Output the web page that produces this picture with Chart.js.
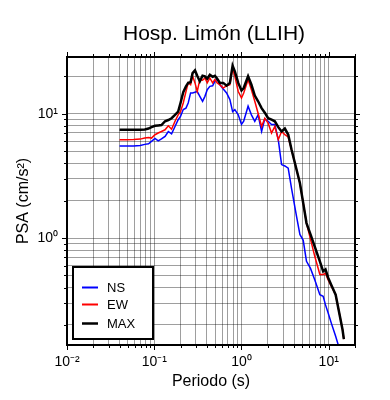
<!DOCTYPE html>
<html>
<head>
<meta charset="utf-8">
<script src="https://cdn.jsdelivr.net/npm/chart.js@4"></script>
<style>
  html, body { margin: 0; padding: 0; background: #fff; }
  #wrap { width: 390px; height: 400px; }
</style>
</head>
<body>
<div id="wrap"><canvas id="psaChart" width="390" height="400"></canvas></div>
<script>
// Periodi (s)
const periodi = [0.04, 0.048, 0.058, 0.069, 0.078, 0.086, 0.093, 0.102, 0.111, 0.121,
  0.133, 0.145, 0.158, 0.173, 0.188, 0.200, 0.215, 0.231, 0.245, 0.261,
  0.275, 0.293, 0.311, 0.333, 0.358, 0.381, 0.405, 0.434, 0.467, 0.495,
  0.527, 0.566, 0.618, 0.675, 0.736, 0.791, 0.839, 0.918, 1.00, 1.06,
  1.19, 1.30, 1.42, 1.55, 1.70, 1.85, 2.02, 2.21, 2.41, 2.64,
  2.88, 3.14, 3.43, 3.75, 4.28, 4.67, 5.10, 5.56, 6.18, 6.93,
  7.91, 8.63, 9.18, 9.85, 10.7, 12.0, 13.2, 14.4, 14.9];

// PSA (cm/s2) per componente
const ns = [5.5, 5.5, 5.5, 5.55, 5.67, 5.74, 6.0, 6.33, 6.05, 6.27,
  6.57, 7.2, 6.9, 7.9, 8.95, 9.5, 10.8, 11.1, 12.2, 14.7,
  14.7, 14.9, 15.1, 13.8, 12.6, 13.8, 15.6, 16.6, 16.8, 18.2,
  19.1, 17.1, 15.8, 14.7, 13.0, 10.4, 10.8, 9.8, 8.2, 8.7,
  11.5, 9.8, 8.7, 9.8, 7.2, 9.1, 8.7, 8.2, 8.2, 6.18,
  3.9, 3.8, 3.65, 2.5, 1.49, 1.07, 0.96, 0.65, 0.57, 0.46,
  0.35, 0.34, 0.29, 0.25, 0.207, 0.162, 0.13, null, null];

const ew = [6.18, 6.18, 6.2, 6.25, 6.37, 6.45, 6.37, 6.78, 7.0, 7.2,
  7.43, 8.0, 7.5, 8.7, 9.8, 10.4, 12.2, 15.1, 17.7, 17.1,
  20.2, 17.7, 15.1, 18.8, 18.6, 19.4, 17.7, 19.4, 17.7, 18.8,
  17.7, 17.1, 16.1, 16.8, 17.1, 23.3, 20.0, 15.1, 13.4, 14.7,
  18.8, 15.6, 12.6, 10.1, 7.9, 9.2, 8.4, 7.0, 7.9, 6.18,
  7.2, 6.8, 6.5, 5.13, 3.54, 2.77, 1.91, 1.32, 0.98, 0.71,
  0.51, 0.51, 0.52, 0.46, 0.41, 0.35, 0.25, 0.183, 0.154];

const maxv = [7.43, 7.43, 7.43, 7.43, 7.47, 7.6, 7.8, 8.0, 8.05, 8.1,
  8.7, 8.9, 9.2, 9.8, 10.4, 12.2, 14.9, 16.6, 17.7, 17.9,
  21.2, 22.3, 20.2, 18.2, 20.2, 20.0, 19.1, 20.6, 19.8, 20.2,
  19.1, 17.7, 17.7, 16.8, 17.7, 24.3, 21.9, 17.7, 15.4, 16.1,
  20.0, 17.1, 14.0, 12.6, 11.1, 10.2, 9.2, 8.95, 8.7, 7.8,
  7.2, 7.6, 6.8, 5.13, 3.54, 2.77, 1.91, 1.32, 1.07, 0.85,
  0.65, 0.54, 0.56, 0.48, 0.42, 0.35, 0.25, 0.183, 0.154];

const serieNomi = ["NS", "EW", "MAX"];
const serieColori = ["#0000ff", "#ff0000", "#000000"];
const titolo = "Hosp. Limón (LLIH)";

// Tick ai decenni (1..9 x 10^n)
const decadiX = [0.01, 0.1, 1, 10];
const decadiY = [0.1, 1, 10];
const xMin = 0.01, xMax = 20;
const yMin = 0.138, yMax = 28.6;

const FONT = "'Liberation Sans', Arial, sans-serif";

const sup = { "-": "\u207B", "0": "\u2070", "1": "\u00B9", "2": "\u00B2", "3": "\u00B3" };
function potenza(v) {
  const e = Math.round(Math.log10(v));
  return "10" + String(e).split("").map(c => sup[c]).join("");
}

function buildTicks(decadi, lo, hi) {
  const out = [];
  decadi.forEach(d => {
    for (let m = 1; m <= 9; m++) {
      const v = +(d * m).toPrecision(3);
      if (v >= lo * 0.999 && v <= hi * 1.001) out.push({ value: v, major: m === 1 });
    }
  });
  return out;
}

function punti(vals) {
  return periodi.map((p, i) => ({ x: p, y: vals[i] }));
}

// Titolo, cornice, tacche su tutti e quattro i lati, legenda
const cornice = {
  id: "cornice",
  afterDatasetsDraw(chart) {
    const { ctx, chartArea: a, scales } = chart;
    ctx.save();

    ctx.fillStyle = "#000";
    ctx.font = "21px " + FONT;
    ctx.textAlign = "center";
    ctx.textBaseline = "middle";
    ctx.fillText(titolo, (a.left + a.right) / 2 + 3, 34);

    ctx.strokeStyle = "#000";
    ctx.lineWidth = 1;
    scales.x.ticks.forEach(t => {
      const px = Math.round(scales.x.getPixelForValue(t.value)) + 0.5;
      const len = t.major ? 5 : 3;
      ctx.beginPath();
      ctx.moveTo(px, a.bottom); ctx.lineTo(px, a.bottom + len);
      ctx.moveTo(px, a.top); ctx.lineTo(px, a.top - len);
      ctx.stroke();
    });
    scales.y.ticks.forEach(t => {
      const py = Math.round(scales.y.getPixelForValue(t.value)) + 0.5;
      const len = t.major ? 5 : 3;
      ctx.beginPath();
      ctx.moveTo(a.left, py); ctx.lineTo(a.left - len, py);
      ctx.moveTo(a.right, py); ctx.lineTo(a.right + len, py);
      ctx.stroke();
    });
    ctx.lineWidth = 2;
    ctx.strokeRect(a.left, a.top, a.right - a.left, a.bottom - a.top);

    const bx = 73, by = 267, bw = 80, bh = 72;
    ctx.fillStyle = "#fff";
    ctx.fillRect(bx, by, bw, bh);
    ctx.strokeStyle = "#000";
    ctx.lineWidth = 2;
    ctx.strokeRect(bx, by, bw, bh);
    const righe = [287.5, 304.5, 323.5];
    ctx.font = "13px " + FONT;
    ctx.textAlign = "left";
    ctx.textBaseline = "middle";
    serieNomi.forEach((n, i) => {
      ctx.strokeStyle = serieColori[i];
      ctx.lineWidth = i === 2 ? 2.5 : 2;
      ctx.beginPath();
      ctx.moveTo(82, righe[i]); ctx.lineTo(98, righe[i]);
      ctx.stroke();
      ctx.fillStyle = "#000";
      ctx.fillText(n, 107, righe[i] + 1);
    });
    ctx.restore();
  }
};

const fontTick = { family: FONT, size: 14 };
const fontTitolo = { family: FONT, size: 16 };

new Chart(document.getElementById("psaChart"), {
  type: "line",
  data: {
    datasets: [
      { label: "NS", data: punti(ns), borderColor: serieColori[0], borderWidth: 1.5, pointRadius: 0, order: 2, clip: 0 },
      { label: "EW", data: punti(ew), borderColor: serieColori[1], borderWidth: 1.5, pointRadius: 0, order: 1, clip: 0 },
      { label: "MAX", data: punti(maxv), borderColor: serieColori[2], borderWidth: 2.5, pointRadius: 0, order: 0, clip: 0 }
    ]
  },
  options: {
    responsive: false,
    animation: false,
    layout: { padding: { left: 0, right: 35, top: 57, bottom: 0 } },
    plugins: {
      legend: { display: false },
      tooltip: { enabled: false },
      title: { display: false }
    },
    scales: {
      x: {
        type: "logarithmic",
        min: xMin,
        max: xMax,
        afterBuildTicks: s => { s.ticks = buildTicks(decadiX, xMin, xMax); },
        afterFit: s => { s.height = 55; },
        grid: { color: "rgba(0,0,0,0.38)", lineWidth: 1, drawTicks: false },
        border: { display: false },
        ticks: {
          autoSkip: false,
          maxRotation: 0,
          padding: 9,
          color: "#000",
          font: fontTick,
          callback: function (v, i, ticks) { return ticks[i].major ? potenza(v) : ""; }
        },
        title: { display: true, text: "Periodo (s)", color: "#000", font: fontTitolo, padding: { top: 0, bottom: 9 } }
      },
      y: {
        type: "logarithmic",
        min: yMin,
        max: yMax,
        afterBuildTicks: s => { s.ticks = buildTicks(decadiY, yMin, yMax); },
        afterFit: s => { s.width = 67; },
        grid: { color: "rgba(0,0,0,0.38)", lineWidth: 1, drawTicks: false },
        border: { display: false },
        ticks: {
          autoSkip: false,
          padding: 9,
          color: "#000",
          font: fontTick,
          callback: function (v, i, ticks) { return ticks[i].major ? potenza(v) : ""; }
        },
        title: { display: true, text: "PSA (cm/s²)", color: "#000", font: fontTitolo, padding: { top: 14, bottom: 0 } }
      }
    }
  },
  plugins: [cornice]
});
</script>
</body>
</html>
